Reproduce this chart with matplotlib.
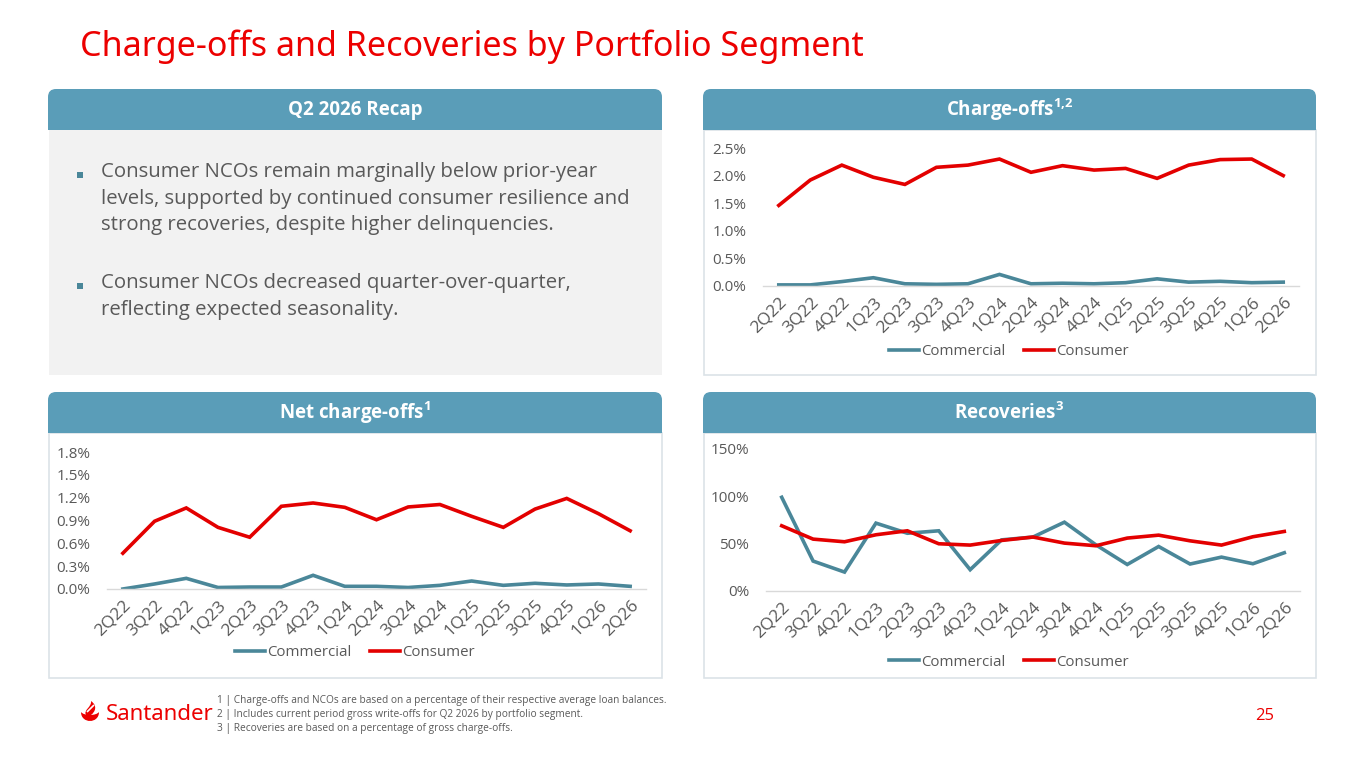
import numpy as np
import matplotlib
matplotlib.use('Agg')
from matplotlib import pyplot as plt
from matplotlib.patches import FancyBboxPatch, Rectangle, PathPatch
from matplotlib.path import Path
from matplotlib.lines import Line2D

plt.rcParams['font.family'] = ['Open Sans', 'DejaVu Sans']

W, H = 1365, 768

quarters = ['2Q22', '3Q22', '4Q22', '1Q23', '2Q23', '3Q23', '4Q23', '1Q24', '2Q24',
            '3Q24', '4Q24', '1Q25', '2Q25', '3Q25', '4Q25', '1Q26', '2Q26']

# values in percent
chargeoff_commercial = [0.02, 0.02, 0.08, 0.15, 0.04, 0.03, 0.04, 0.21, 0.04,
                        0.05, 0.04, 0.06, 0.13, 0.07, 0.085, 0.06, 0.07]
chargeoff_consumer = [1.46, 1.92, 2.19, 1.97, 1.84, 2.15, 2.19, 2.30, 2.06,
                      2.18, 2.10, 2.13, 1.95, 2.19, 2.29, 2.30, 2.00]
nco_commercial = [0.0, 0.066, 0.14, 0.02, 0.026, 0.026, 0.18, 0.035, 0.035,
                  0.02, 0.048, 0.105, 0.048, 0.075, 0.053, 0.066, 0.035]
nco_consumer = [0.47, 0.89, 1.065, 0.81, 0.68, 1.087, 1.13, 1.073, 0.91,
                1.078, 1.11, 0.955, 0.81, 1.05, 1.19, 0.99, 0.765]
rec_commercial = [99, 31.6, 20, 71.7, 61, 63.6, 22.5, 54, 57,
                  72.7, 48.8, 28, 47, 28.5, 35.8, 28.8, 40.4]
rec_consumer = [68.9, 54.8, 52, 59.4, 63.6, 49.9, 48.5, 53.4, 57,
                50.6, 47.8, 55.9, 59, 53, 48.5, 57.3, 62.9]

recap_bullets = [
    'Consumer NCOs remain marginally below prior-year\nlevels, supported by continued consumer resilience and\nstrong recoveries, despite higher delinquencies.',
    'Consumer NCOs decreased quarter-over-quarter,\nreflecting expected seasonality.',
]
footnotes = [
    '1 | Charge-offs and NCOs are based on a percentage of their respective average loan balances.',
    '2 | Includes current period gross write-offs for Q2 2026 by portfolio segment.',
    '3 | Recoveries are based on a percentage of gross charge-offs.',
]

red = '#EC0000'
line_red = '#E30000'
teal = '#4A8799'
header = '#5A9DB8'
grey_txt = '#595959'
border = '#DCE3E8'

fig = plt.figure(figsize=(W / 100, H / 100), dpi=100)
bg = fig.add_axes([0, 0, 1, 1])
bg.set_xlim(0, W)
bg.set_ylim(H, 0)
bg.axis('off')


def fpos(x0, y0, x1, y1):
    # pixel box -> figure fraction
    return [x0 / W, 1 - y1 / H, (x1 - x0) / W, (y1 - y0) / H]


def panel(x0, x1, y0, title, fill):
    # rounded header + body box
    hb = FancyBboxPatch((x0, y0), x1 - x0, 40, boxstyle='round,pad=0,rounding_size=8',
                        fc=header, ec='none', zorder=2)
    bg.add_patch(hb)
    bg.add_patch(Rectangle((x0, y0 + 20), x1 - x0, 21, fc=header, ec='none', zorder=2))
    bg.add_patch(Rectangle((x0 + 0.5, y0 + 41), x1 - x0 - 1, 245, fc=fill,
                           ec=border if fill == 'white' else 'none', lw=1.2, zorder=1))
    bg.text((x0 + x1) / 2, y0 + 21, title, color='white', fontsize=13.5, fontweight='bold',
            ha='center', va='center', zorder=3)


# title
bg.text(80, 47, 'Charge-offs and Recoveries by Portfolio Segment', color=red,
        fontsize=24.5, ha='left', va='center', family=['Noto Sans', 'DejaVu Sans'])

panel(48, 662, 89, 'Q2 2026 Recap', '#F2F2F2')
panel(703, 1316, 89, r'Charge-offs$^{\mathregular{1{,}2}}$', 'white')
panel(48, 662, 392, r'Net charge-offs$^{\mathregular{1}}$', 'white')
panel(703, 1316, 392, r'Recoveries$^{\mathregular{3}}$', 'white')

# recap bullets
by = [175, 286]
for k in range(len(recap_bullets)):
    bg.add_patch(Rectangle((77, by[k] - 3), 6, 6, fc=teal, ec='none', zorder=3))
    bg.text(101, by[k] - 13, recap_bullets[k], color=grey_txt, fontsize=14.7, ha='left',
            va='top', linespacing=1.44, zorder=3)


def chart(box, com, con, yticks, fmt, leg_xy):
    ax = fig.add_axes(fpos(*box))
    x = np.arange(len(quarters))
    ax.plot(x, com, color=teal, lw=2.6, label='Commercial', solid_joinstyle='miter')
    ax.plot(x, con, color=line_red, lw=2.6, label='Consumer', solid_joinstyle='miter')
    ax.set_xlim(-0.5, len(quarters) - 0.5)
    ax.set_ylim(yticks[0], yticks[-1])
    ax.set_yticks(yticks)
    ax.set_yticklabels([fmt.format(v) for v in yticks])
    ax.set_xticks(x)
    ax.set_xticklabels(quarters, rotation=45, ha='right', va='top', rotation_mode='anchor')
    for s in ['top', 'right', 'left']:
        ax.spines[s].set_visible(False)
    ax.spines['bottom'].set_color('#D9D9D9')
    ax.spines['bottom'].set_linewidth(1)
    ax.tick_params(length=0, labelcolor=grey_txt)
    ax.tick_params(axis='x', pad=6, labelsize=12.5)
    ax.tick_params(axis='y', pad=12, labelsize=11)
    ax.patch.set_alpha(0)
    fig.legend(handles=[Line2D([], [], color=teal, lw=2.6), Line2D([], [], color=line_red, lw=2.6)],
               labels=['Commercial', 'Consumer'], loc='center',
               bbox_to_anchor=(leg_xy[0] / W, 1 - leg_xy[1] / H), ncol=2, frameon=False,
               fontsize=10.8, handlelength=2.0, handletextpad=0.15, columnspacing=1.2,
               labelcolor=grey_txt)
    return ax


chart((763, 148, 1299, 286), chargeoff_commercial, chargeoff_consumer,
      [0, 0.5, 1.0, 1.5, 2.0, 2.5], '{:.1f}%', (1009, 352))
chart((107, 452, 646, 589), nco_commercial, nco_consumer,
      [0, 0.3, 0.6, 0.9, 1.2, 1.5, 1.8], '{:.1f}%', (355, 653))
chart((766, 449, 1300, 591), rec_commercial, rec_consumer,
      [0, 50, 100, 150], '{:.0f}%', (1009, 662))

# footer: logo (flame + wordmark), footnotes, page number
base = Path([(81, 712), (81, 724), (99, 724), (99, 712),
             (96, 716), (84, 716), (81, 712), (81, 712)],
            [Path.MOVETO, Path.CURVE4, Path.CURVE4, Path.CURVE4,
             Path.CURVE4, Path.CURVE4, Path.CURVE4, Path.CLOSEPOLY])
tongue = Path([(86, 715), (83, 710), (92, 707), (91, 701),
               (98, 706), (95, 712), (91, 715), (86, 715)],
              [Path.MOVETO, Path.CURVE4, Path.CURVE4, Path.CURVE4,
               Path.CURVE4, Path.CURVE4, Path.CURVE4, Path.CLOSEPOLY])
bg.add_patch(PathPatch(base, fc=red, ec='none', zorder=3))
bg.add_patch(PathPatch(tongue, fc=red, ec='none', zorder=3))
bg.plot([87, 94], [712, 705], color='white', lw=1.2, zorder=4, solid_capstyle='butt')
bg.text(106, 714, 'Santander', color=red, fontsize=16, ha='left', va='center',
        fontweight='medium', family=['Noto Sans', 'DejaVu Sans'])
for k in range(len(footnotes)):
    bg.text(217, 701 + 14 * k, footnotes[k], color=grey_txt, fontsize=7.3, ha='left', va='center')
bg.text(1265, 716, '25', color=red, fontsize=12, ha='center', va='center')

fig.savefig('out.png', dpi=100)
